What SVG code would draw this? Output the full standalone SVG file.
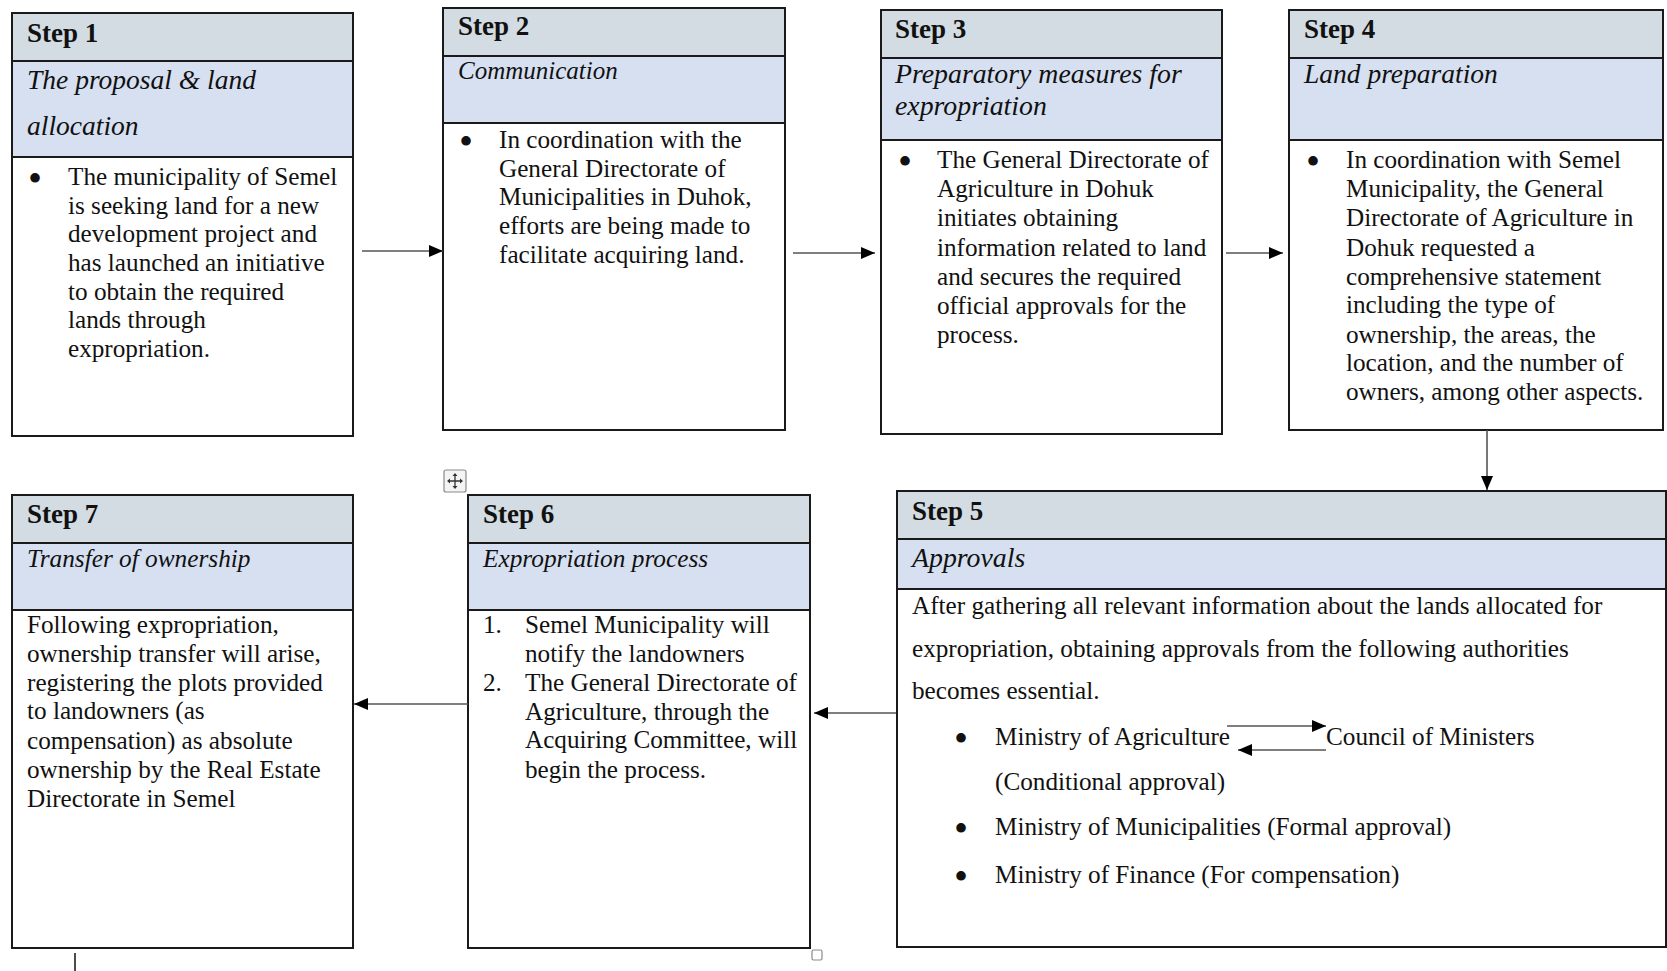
<svg xmlns="http://www.w3.org/2000/svg" width="1667" height="971" viewBox="0 0 1667 971">
  <style>
    .frame { fill: #ffffff; stroke: #1a1a1a; stroke-width: 2; }
    .head { fill: #d3dce2; stroke: #1a1a1a; stroke-width: 2; }
    .sub { fill: #d6e0f1; stroke: #1a1a1a; stroke-width: 2; }
    text { font-family: "Liberation Serif", "Times New Roman", serif; fill: #111111; }
    .title { font-size: 27px; font-weight: bold; }
    .subt { font-style: italic; }
    .body { font-size: 25.2px; }
    .dot { font-size: 40px; }
    .link { stroke: #555555; stroke-width: 1.6; fill: none; marker-end: url(#tip); }
  </style>
  <defs>
    <marker id="tip" markerUnits="userSpaceOnUse" markerWidth="14" markerHeight="12" refX="14" refY="6" orient="auto">
      <path d="M0,0 L14,6 L0,12 Z" fill="#000000"/>
    </marker>
  </defs>

  <rect width="1667" height="971" fill="#ffffff"/>

  <!-- Step 1 -->
  <g id="step1">
    <rect class="frame" x="12" y="13" width="341" height="423"/>
    <rect class="head" x="12" y="13" width="341" height="48"/>
    <rect class="sub" x="12" y="61" width="341" height="96"/>
    <text class="title" x="27" y="42">Step 1</text>
    <text class="subt" x="27" y="89" style="font-size:27.5px">The proposal &amp; land</text>
    <text class="subt" x="27" y="135" style="font-size:27.5px">allocation</text>
    <text class="dot" x="28" y="192">•</text>
    <text class="body" x="68" y="185">The municipality of Semel</text>
    <text class="body" x="68" y="214">is seeking land for a new</text>
    <text class="body" x="68" y="242">development project and</text>
    <text class="body" x="68" y="271">has launched an initiative</text>
    <text class="body" x="68" y="300">to obtain the required</text>
    <text class="body" x="68" y="328">lands through</text>
    <text class="body" x="68" y="357">expropriation.</text>
  </g>

  <!-- Step 2 -->
  <g id="step2">
    <rect class="frame" x="443" y="8" width="342" height="422"/>
    <rect class="head" x="443" y="8" width="342" height="48"/>
    <rect class="sub" x="443" y="56" width="342" height="67"/>
    <text class="title" x="458" y="35">Step 2</text>
    <text class="subt" x="458" y="79" style="font-size:25px">Communication</text>
    <text class="dot" x="459" y="155">•</text>
    <text class="body" x="499" y="148">In coordination with the</text>
    <text class="body" x="499" y="177">General Directorate of</text>
    <text class="body" x="499" y="205">Municipalities in Duhok,</text>
    <text class="body" x="499" y="234">efforts are being made to</text>
    <text class="body" x="499" y="263">facilitate acquiring land.</text>
  </g>

  <!-- Step 3 -->
  <g id="step3">
    <rect class="frame" x="881" y="10" width="341" height="424"/>
    <rect class="head" x="881" y="10" width="341" height="48"/>
    <rect class="sub" x="881" y="58" width="341" height="82"/>
    <text class="title" x="895" y="38">Step 3</text>
    <text class="subt" x="895" y="83" style="font-size:27.8px">Preparatory measures for</text>
    <text class="subt" x="895" y="115" style="font-size:27.8px">expropriation</text>
    <text class="dot" x="898" y="175">•</text>
    <text class="body" x="937" y="168">The General Directorate of</text>
    <text class="body" x="937" y="197">Agriculture in Dohuk</text>
    <text class="body" x="937" y="226">initiates obtaining</text>
    <text class="body" x="937" y="256">information related to land</text>
    <text class="body" x="937" y="285">and secures the required</text>
    <text class="body" x="937" y="314">official approvals for the</text>
    <text class="body" x="937" y="343">process.</text>
  </g>

  <!-- Step 4 -->
  <g id="step4">
    <rect class="frame" x="1289" y="10" width="374" height="420"/>
    <rect class="head" x="1289" y="10" width="374" height="48"/>
    <rect class="sub" x="1289" y="58" width="374" height="82"/>
    <text class="title" x="1304" y="38">Step 4</text>
    <text class="subt" x="1304" y="83" style="font-size:27.5px">Land preparation</text>
    <text class="dot" x="1306" y="175">•</text>
    <text class="body" x="1346" y="168">In coordination with Semel</text>
    <text class="body" x="1346" y="197">Municipality, the General</text>
    <text class="body" x="1346" y="226">Directorate of Agriculture in</text>
    <text class="body" x="1346" y="256">Dohuk requested a</text>
    <text class="body" x="1346" y="285">comprehensive statement</text>
    <text class="body" x="1346" y="313">including the type of</text>
    <text class="body" x="1346" y="343">ownership, the areas, the</text>
    <text class="body" x="1346" y="371">location, and the number of</text>
    <text class="body" x="1346" y="400">owners, among other aspects.</text>
  </g>

  <!-- Step 5 -->
  <g id="step5">
    <rect class="frame" x="897" y="491" width="769" height="456"/>
    <rect class="head" x="897" y="491" width="769" height="48"/>
    <rect class="sub" x="897" y="539" width="769" height="50"/>
    <text class="title" x="912" y="520">Step 5</text>
    <text class="subt" x="912" y="567" style="font-size:27.8px">Approvals</text>
    <text class="body" x="912" y="614">After gathering all relevant information about the lands allocated for</text>
    <text class="body" x="912" y="657">expropriation, obtaining approvals from the following authorities</text>
    <text class="body" x="912" y="699">becomes essential.</text>
    <text class="dot" x="954" y="752">•</text>
    <text class="body" x="995" y="745">Ministry of Agriculture</text>
    <text class="body" x="1326" y="745">Council of Ministers</text>
    <text class="body" x="995" y="790">(Conditional approval)</text>
    <text class="dot" x="954" y="842">•</text>
    <text class="body" x="995" y="835">Ministry of Municipalities (Formal approval)</text>
    <text class="dot" x="954" y="890">•</text>
    <text class="body" x="995" y="883">Ministry of Finance (For compensation)</text>
  </g>

  <!-- Step 6 -->
  <g id="step6">
    <rect class="frame" x="468" y="495" width="342" height="453"/>
    <rect class="head" x="468" y="495" width="342" height="48"/>
    <rect class="sub" x="468" y="543" width="342" height="67"/>
    <text class="title" x="483" y="523">Step 6</text>
    <text class="subt" x="483" y="567" style="font-size:25.3px">Expropriation process</text>
    <text class="body" x="483" y="633">1.</text>
    <text class="body" x="525" y="633">Semel Municipality will</text>
    <text class="body" x="525" y="662">notify the landowners</text>
    <text class="body" x="483" y="691">2.</text>
    <text class="body" x="525" y="691">The General Directorate of</text>
    <text class="body" x="525" y="720">Agriculture, through the</text>
    <text class="body" x="525" y="748">Acquiring Committee, will</text>
    <text class="body" x="525" y="778">begin the process.</text>
  </g>

  <!-- Step 7 -->
  <g id="step7">
    <rect class="frame" x="12" y="495" width="341" height="453"/>
    <rect class="head" x="12" y="495" width="341" height="48"/>
    <rect class="sub" x="12" y="543" width="341" height="67"/>
    <text class="title" x="27" y="523">Step 7</text>
    <text class="subt" x="27" y="567" style="font-size:25.3px">Transfer of ownership</text>
    <text class="body" x="27" y="633">Following expropriation,</text>
    <text class="body" x="27" y="662">ownership transfer will arise,</text>
    <text class="body" x="27" y="691">registering the plots provided</text>
    <text class="body" x="27" y="719">to landowners (as</text>
    <text class="body" x="27" y="749">compensation) as absolute</text>
    <text class="body" x="27" y="778">ownership by the Real Estate</text>
    <text class="body" x="27" y="807">Directorate in Semel</text>
  </g>

  <!-- table handles and caret -->
  <g id="handles">
    <rect x="444" y="470" width="22" height="22" rx="2" fill="#f4f4f4" stroke="#8a8a8a" stroke-width="1.2"/>
    <path d="M455,474 V488 M448,481 H462" stroke="#333333" stroke-width="1.3" fill="none"/>
    <path d="M455,473 L452.5,476 H457.5 Z M455,489 L452.5,486 H457.5 Z M447,481 L450,478.5 V483.5 Z M463,481 L460,478.5 V483.5 Z" fill="#333333"/>
    <rect x="812" y="950" width="10" height="10" rx="1.5" fill="#ffffff" stroke="#8a8a8a" stroke-width="1.2"/>
    <line x1="75" y1="953" x2="75" y2="971" stroke="#111111" stroke-width="1.5"/>
  </g>

  <!-- Connectors -->
  <g id="connectors">
    <line class="link" x1="362" y1="251" x2="443" y2="251"/>
    <line class="link" x1="793" y1="253" x2="875" y2="253"/>
    <line class="link" x1="1226" y1="253" x2="1283" y2="253"/>
    <line class="link" x1="1487" y1="430" x2="1487" y2="490"/>
    <line class="link" x1="896" y1="713" x2="814" y2="713"/>
    <line class="link" x1="468" y1="704" x2="354" y2="704"/>
    <line class="link" x1="1227" y1="726" x2="1326" y2="726"/>
    <line class="link" x1="1326" y1="750" x2="1238" y2="750"/>
  </g>
</svg>
